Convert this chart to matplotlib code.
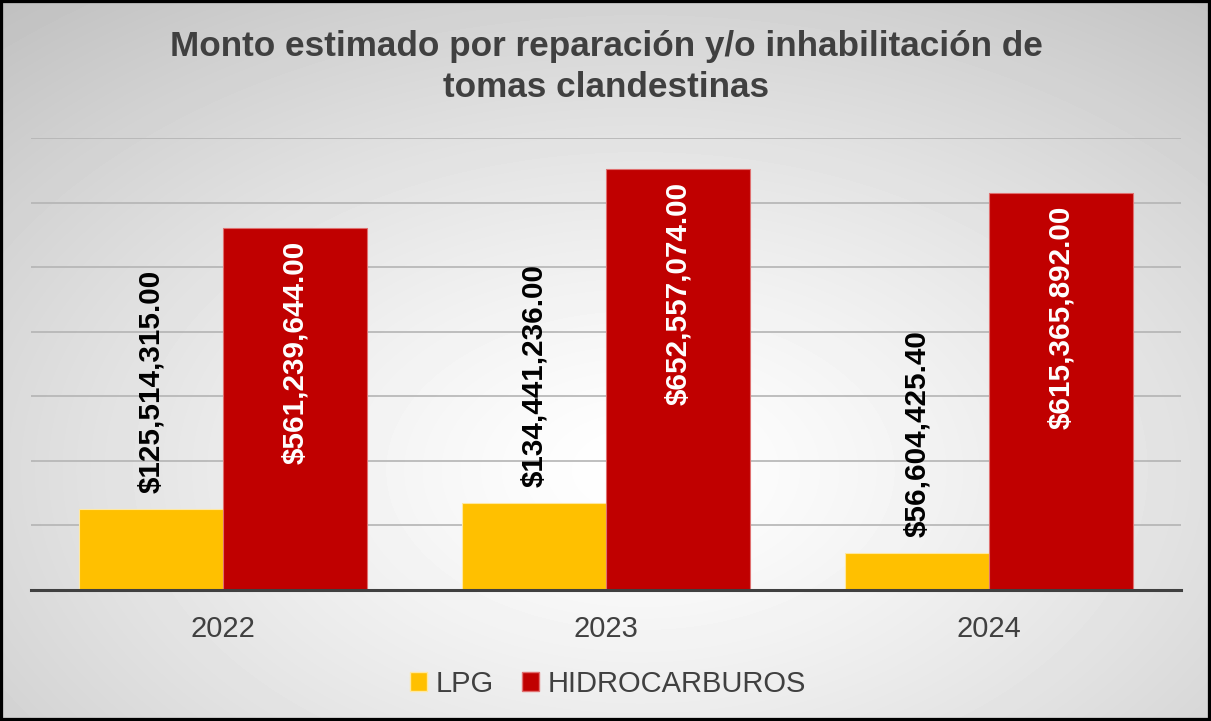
import numpy as np
import matplotlib
matplotlib.use("Agg")
import matplotlib.pyplot as plt
from matplotlib.patches import Rectangle, Patch

categories = ["2022", "2023", "2024"]
lpg = [125514315.00, 134441236.00, 56604425.40]
hidro = [561239644.00, 652557074.00, 615365892.00]
series_names = ["LPG", "HIDROCARBUROS"]
title = "Monto estimado por reparación y/o inhabilitación de\ntomas clandestinas"

W, H = 1211, 721
fig = plt.figure(figsize=(W / 100, H / 100), dpi=100)
plt.rcParams['font.family'] = ['Liberation Sans', 'DejaVu Sans']

# radial gradient background
bg = fig.add_axes([0, 0, 1, 1], zorder=-10)
yy, xx = np.mgrid[0:H, 0:W]
cx, cy = 640, 470
r = np.sqrt(((xx - cx) / W) ** 2 + ((yy - cy) / H) ** 2 * 0.9)
r = r / r.max()
val = 1.0 - 0.25 * np.clip(r, 0, 1) ** 1.3
bg.imshow(val, cmap="gray", vmin=0, vmax=1, aspect="auto", extent=[0, 1, 0, 1])
bg.set_axis_off()

# main axes
left, right, base, top = 31, 1181, 590, 138
ax = fig.add_axes([left / W, (H - base) / H, (right - left) / W, (base - top) / H])
ax.patch.set_alpha(0)
x = np.arange(len(categories))
bw = 144 / 383.3
ax.bar(x - bw / 2, lpg, bw, color="#FFC000", edgecolor="#FFE8A0", linewidth=0.8, zorder=3, label=series_names[0])
ax.bar(x + bw / 2, hidro, bw, color="#C00000", edgecolor="#E07070", linewidth=0.8, zorder=3, label=series_names[1])
ax.set_xlim(-0.5, 2.5)
ax.set_ylim(0, 700e6)
ax.set_yticks(np.arange(100e6, 700e6 + 1, 100e6))
ax.yaxis.grid(True, color="#B4B4B4", linewidth=1.2, zorder=0)
ax.tick_params(axis="y", length=0, labelleft=False)
ax.set_xticks(x)
ax.set_xticklabels(categories, fontsize=21, color="#404040")
ax.tick_params(axis="x", length=0, pad=18)
for s in ["left", "right", "top"]:
    ax.spines[s].set_visible(False)
ax.spines["bottom"].set_color("#404040")
ax.spines["bottom"].set_linewidth(2.2)
ax.spines["bottom"].set_zorder(4)

for xi, v in zip(x, lpg):
    ax.annotate(f"${v:,.2f}", (xi - bw / 2, v), xytext=(0, 16), textcoords="offset pixels",
                rotation=90, ha="center", va="bottom", fontsize=21.3, fontweight="bold", color="black", zorder=5)
for xi, v in zip(x, hidro):
    ax.annotate(f"${v:,.2f}", (xi + bw / 2, v), xytext=(0, -13), textcoords="offset pixels",
                rotation=90, ha="center", va="top", fontsize=21.3, fontweight="bold", color="white", zorder=5)

fig.text(606 / W, 1 - 67 / H, title, ha="center", va="center", fontsize=25.3, fontweight="bold",
         color="#404040", linespacing=1.3)

handles = [Patch(facecolor="#FFC000", edgecolor="#FFE8A0"), Patch(facecolor="#C00000", edgecolor="#E07070")]
fig.legend(handles, series_names, loc="center", bbox_to_anchor=(608 / W, 1 - 684 / H), ncol=2, frameon=False,
           fontsize=21, handlelength=0.6, handleheight=0.6, handletextpad=0.3, columnspacing=0.95,
           labelcolor="#404040")

fig.patches.append(Rectangle((0, 0), 1, 1, transform=fig.transFigure, fill=False, edgecolor="black",
                             linewidth=4.5, zorder=100))

fig.savefig("out.png", dpi=100)
